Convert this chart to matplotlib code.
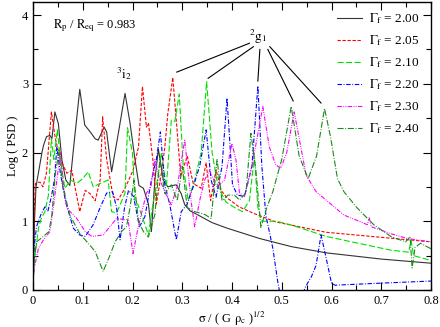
import numpy as np
import matplotlib
matplotlib.use('Agg')
import matplotlib.pyplot as plt

# dados (sigma, log PSD)
x_200 = [0.0, 0.003, 0.006, 0.012, 0.018, 0.021, 0.027, 0.034, 0.038, 0.044, 0.051, 0.058, 0.066, 0.074,
         0.082, 0.094, 0.104, 0.115, 0.125, 0.131, 0.143, 0.148, 0.158, 0.172, 0.185, 0.195, 0.205, 0.213,
         0.222, 0.232, 0.238, 0.245, 0.252, 0.262, 0.271, 0.28, 0.288, 0.298, 0.305, 0.316, 0.332, 0.36,
         0.39, 0.455, 0.52, 0.59, 0.7, 0.8]
y_200 = [0.1, 1.0, 1.5, 1.75, 2.0, 2.1, 2.23, 2.25, 2.2, 2.59, 2.42, 1.9, 1.6, 1.52,
         2.1, 2.92, 2.4, 2.3, 2.2, 2.18, 2.37, 2.3, 1.72, 2.3, 2.86, 2.43, 1.9, 1.52,
         1.48, 1.25, 0.85, 1.6, 2.05, 1.6, 1.5, 1.52, 1.53, 1.4, 1.24, 1.15, 1.09, 0.98,
         0.9, 0.75, 0.63, 0.54, 0.45, 0.39]

x_205 = [0.0, 0.003, 0.005, 0.014, 0.02, 0.027, 0.037, 0.045, 0.055, 0.068, 0.078, 0.094, 0.105, 0.115,
         0.125, 0.135, 0.14, 0.148, 0.161, 0.171, 0.185, 0.201, 0.212, 0.22, 0.228, 0.232, 0.241, 0.248,
         0.258, 0.265, 0.271, 0.281, 0.288, 0.297, 0.31, 0.322, 0.338, 0.348, 0.357, 0.368, 0.378, 0.39,
         0.414, 0.442, 0.488, 0.589, 0.8]
y_205 = [0.5, 1.2, 1.55, 1.57, 1.5, 1.7, 2.59, 2.2, 1.9, 1.7, 1.74, 1.14, 1.45, 1.4,
         1.3, 1.6, 2.52, 1.9, 1.36, 1.31, 1.48, 1.74, 2.08, 2.96, 2.37, 2.43, 1.89, 1.25,
         1.7, 2.08, 2.57, 3.09, 2.47, 1.65, 1.95, 1.55, 1.48, 1.85, 1.3, 1.75, 1.45, 1.34,
         1.21, 1.12, 0.99, 0.84, 0.7]

x_210 = [0.0, 0.004, 0.011, 0.017, 0.024, 0.031, 0.037, 0.042, 0.049, 0.055, 0.064, 0.076, 0.088, 0.1,
         0.111, 0.121, 0.135, 0.151, 0.158, 0.168, 0.185, 0.19, 0.2, 0.205, 0.211, 0.225, 0.232, 0.24,
         0.25, 0.258, 0.268, 0.278, 0.285, 0.294, 0.302, 0.312, 0.325, 0.338, 0.349, 0.36, 0.372, 0.388,
         0.405, 0.421, 0.435, 0.445, 0.452, 0.46, 0.49, 0.522, 0.589, 0.719, 0.755, 0.76, 0.765, 0.8]
y_210 = [0.1, 0.5, 0.9, 1.05, 1.14, 1.38, 2.2, 1.9, 2.33, 1.9, 1.48, 1.6, 1.55, 1.62,
         1.72, 1.5, 1.55, 1.6, 1.14, 1.12, 1.41, 2.36, 1.99, 1.28, 1.24, 0.95, 0.8, 1.2,
         1.6, 2.0, 1.5, 2.47, 2.45, 2.85, 1.8, 1.3, 1.6, 2.0, 3.03, 2.0, 1.5, 1.28,
         1.2, 1.14, 1.3, 1.95, 1.2, 1.0, 1.0, 0.94, 0.78, 0.58, 0.55, 0.72, 0.5, 0.43]

x_220 = [0.0, 0.002, 0.007, 0.016, 0.024, 0.03, 0.037, 0.043, 0.048, 0.055, 0.065, 0.081, 0.094, 0.105,
         0.121, 0.135, 0.148, 0.16, 0.168, 0.175, 0.184, 0.192, 0.202, 0.214, 0.225, 0.238, 0.248, 0.256,
         0.265, 0.275, 0.288, 0.298, 0.31, 0.322, 0.335, 0.348, 0.358, 0.368, 0.38, 0.39, 0.401, 0.411,
         0.425, 0.44, 0.452, 0.46, 0.468, 0.482, 0.492, 0.5, 0.52, 0.54, 0.548, 0.56, 0.569, 0.579,
         0.59, 0.6, 0.607, 0.7, 0.8]
y_220 = [0.3, 0.6, 0.92, 1.1, 1.21, 1.15, 1.36, 1.6, 2.08, 1.7, 1.3, 0.9, 0.8, 0.78,
         0.95, 1.2, 1.41, 1.43, 1.2, 0.73, 1.2, 1.45, 1.36, 0.92, 1.07, 1.6, 1.9, 2.3,
         1.53, 1.24, 0.73, 1.14, 1.25, 1.5, 1.8, 2.33, 1.6, 1.35, 1.8, 2.79, 1.53, 1.38,
         1.36, 1.8, 2.97, 1.8, 1.09, 0.61, 0.12, -0.2, -0.4, -0.1, 0.05, 0.2, 0.36, 0.8,
         0.44, 0.1, 0.07, 0.1, 0.13]

x_230 = [0.0, 0.002, 0.011, 0.021, 0.034, 0.041, 0.048, 0.055, 0.06, 0.068, 0.088, 0.105, 0.118, 0.141,
         0.168, 0.191, 0.201, 0.211, 0.228, 0.237, 0.245, 0.255, 0.268, 0.278, 0.29, 0.305, 0.318, 0.325,
         0.335, 0.345, 0.355, 0.37, 0.385, 0.4, 0.408, 0.415, 0.425, 0.44, 0.462, 0.475, 0.488, 0.498,
         0.51, 0.525, 0.549, 0.569, 0.589, 0.625, 0.659, 0.672, 0.676, 0.68, 0.719, 0.752, 0.8]
y_230 = [0.1, 0.3, 0.61, 0.73, 0.85, 1.21, 1.6, 2.0, 1.6, 1.19, 1.04, 0.85, 0.78, 0.8,
         1.04, 1.02, 0.53, 0.9, 1.41, 1.5, 1.9, 1.6, 1.38, 1.24, 1.5, 2.18, 1.28, 0.92,
         1.3, 1.6, 1.74, 1.5, 1.6, 2.13, 1.89, 1.41, 1.36, 1.8, 2.67, 2.08, 1.82, 1.77,
         2.0, 2.59, 1.67, 1.43, 1.31, 1.09, 0.99, 0.95, 1.05, 0.92, 0.82, 0.75, 0.7]

x_240 = [0.0, 0.002, 0.007, 0.016, 0.024, 0.032, 0.038, 0.045, 0.052, 0.06, 0.074, 0.094, 0.111, 0.125,
         0.141, 0.155, 0.165, 0.178, 0.188, 0.195, 0.203, 0.212, 0.222, 0.232, 0.245, 0.255, 0.265, 0.278,
         0.29, 0.3, 0.31, 0.325, 0.345, 0.358, 0.37, 0.38, 0.392, 0.405, 0.415, 0.428, 0.438, 0.448,
         0.458, 0.47, 0.482, 0.5, 0.519, 0.535, 0.553, 0.57, 0.586, 0.598, 0.612, 0.625, 0.652, 0.685,
         0.719, 0.749, 0.755, 0.758, 0.762, 0.768, 0.779, 0.8]
y_240 = [0.1, 0.41, 0.7, 0.75, 0.8, 0.85, 1.1, 1.7, 2.0, 1.5, 1.09, 0.82, 0.68, 0.56,
         0.27, 0.51, 0.7, 0.85, 0.92, 1.2, 1.6, 1.0, 0.85, 0.77, 1.1, 1.9, 1.4, 1.53,
         1.3, 1.8, 1.2, 1.14, 1.1, 1.04, 1.9, 1.3, 1.38, 1.38, 1.31, 1.41, 2.28, 1.74,
         0.91, 1.2, 1.43, 1.9, 2.67, 1.95, 1.62, 1.95, 2.64, 2.23, 1.62, 1.43, 1.19, 0.95,
         0.78, 0.7, 0.75, 0.78, 0.32, 0.62, 0.68, 0.6]

rotulos = ['2.00', '2.05', '2.10', '2.20', '2.30', '2.40']
cores = ['#333333', '#ff0000', '#00e000', '#0000ff', '#ff00ff', '#1a8a1a']
tracos = [None, (3, 1.5), (5.5, 2.2), (4, 1.5, 0.8, 1.5), (4, 1.2, 0.8, 1.2, 0.8, 1.2), (5.5, 1.5, 0.8, 1.5)]

plt.rcParams['font.family'] = 'Liberation Serif'
plt.rcParams['mathtext.fontset'] = 'stix'
plt.rcParams['font.size'] = 9

fig = plt.figure(figsize=(4.4, 3.27), dpi=100)
ax = fig.add_axes([33/440, 1-290/327, 398/440, 288/327])

series = [(x_200, y_200), (x_205, y_205), (x_210, y_210), (x_220, y_220), (x_230, y_230), (x_240, y_240)]
for (xs, ys), rot, cor, tr in zip(series, rotulos, cores, tracos):
    linha, = ax.plot(xs, ys, color=cor, lw=0.8, label=r'$\mathrm{\Gamma_f}$ = ' + rot)
    if tr is not None:
        linha.set_dashes(tr)

ax.set_xlim(0, 0.8)
ax.set_ylim(0, 4.19)
ax.set_xticks(np.arange(0, 0.81, 0.1))
ax.set_xticklabels(['0', '0.1', '0.2', '0.3', '0.4', '0.5', '0.6', '0.7', '0.8'])
ax.set_xticks(np.arange(0.05, 0.8, 0.1), minor=True)
ax.set_yticks([0, 1, 2, 3, 4])
ax.set_yticks([0.5, 1.5, 2.5, 3.5], minor=True)
ax.tick_params(which='both', direction='in', top=True, right=True, labelsize=9)
ax.tick_params(which='major', length=6, width=0.8)
ax.tick_params(which='minor', length=3.5, width=0.8)
for s in ax.spines.values():
    s.set_linewidth(1.0)

ax.set_xlabel(r'$\mathrm{\sigma}$ / ( G $\mathrm{\rho_c}$ )$^{1/2}$', fontsize=9, labelpad=2)
ax.set_ylabel('Log ( PSD )', fontsize=9, labelpad=2)

ax.text(0.04, 3.85, r'$\mathrm{R_p}$ / $\mathrm{R_{eq}}$ = 0.983', fontsize=9, va='center', ha='left')
ax.text(0.183, 3.15, r'$^{3}\mathrm{i}_{2}$', fontsize=9.5, ha='center', va='center')
ax.text(0.452, 3.68, r'$^{2}\mathrm{g}_{1}$', fontsize=9.5, ha='center', va='center')

# linhas que ligam o rotulo 2g1 aos picos
inicio_x = [0.435, 0.443, 0.456, 0.472, 0.476]
inicio_y = [3.59, 3.54, 3.50, 3.50, 3.54]
fim_x = [0.289, 0.352, 0.452, 0.523, 0.579]
fim_y = [3.17, 3.08, 3.04, 2.75, 2.72]
for a, b, c, d in zip(inicio_x, inicio_y, fim_x, fim_y):
    ax.plot([a, c], [b, d], color='black', lw=0.8)

ax.legend(loc='upper right', frameon=False, fontsize=9.5, handlelength=1.9, handletextpad=0.5,
          labelspacing=0.55, bbox_to_anchor=(0.99, 0.995), borderaxespad=0.2)

plt.savefig('out.png', dpi=100)
